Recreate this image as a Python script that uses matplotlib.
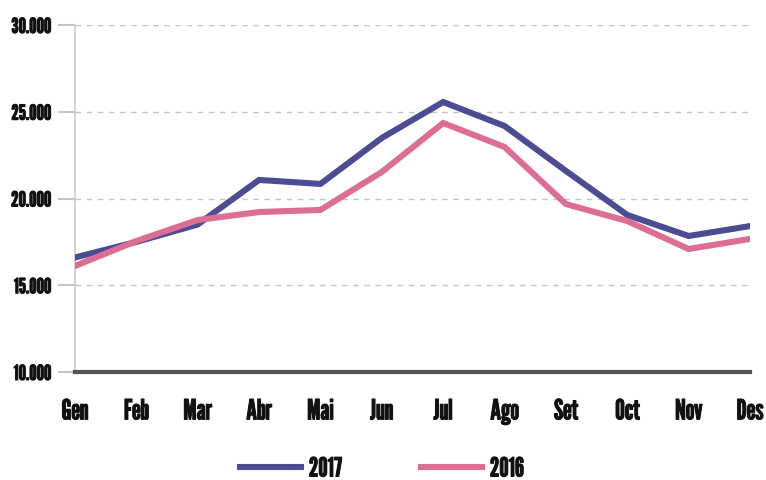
import matplotlib
matplotlib.use("Agg")
import matplotlib.pyplot as plt
import matplotlib.patheffects as pe
from matplotlib.lines import Line2D
from matplotlib.ticker import FuncFormatter

months = ["Gen", "Feb", "Mar", "Abr", "Mai", "Jun", "Jul", "Ago", "Set", "Oct", "Nov", "Des"]
v2017 = [16600, 17500, 18500, 21070, 20840, 23490, 25560, 24180, 21590, 19050, 17840, 18410]
v2016 = [16110, 17550, 18760, 19220, 19340, 21530, 24350, 22970, 19680, 18700, 17090, 17670]
yticks = [10000, 15000, 20000, 25000, 30000]

c2017 = "#4b4c94"
c2016 = "#dd6e93"
FONT = ['League Gothic', 'DejaVu Sans']
thick = [pe.withStroke(linewidth=0.7, foreground="#111111")]

plt.rcParams['font.family'] = FONT
W, H = 766, 481
fig = plt.figure(figsize=(W/100, H/100), dpi=100)
ax = fig.add_axes([75/W, 1-373/H, (750-75)/W, (373-26)/H])

x = list(range(len(months)))
ax.plot(x, v2017, color=c2017, lw=4.4, solid_joinstyle='miter', zorder=3)
ax.plot(x, v2016, color=c2016, lw=4.4, solid_joinstyle='miter', zorder=3)

ax.set_xlim(0, 11)
ax.set_ylim(10000, 30000)
ax.set_yticks(yticks)
ax.yaxis.set_major_formatter(FuncFormatter(lambda v, p: f"{int(v):,}".replace(",", ".")))
for yv in yticks[1:]:
    ax.axhline(yv, color="#c4c4c4", lw=1, ls=(0, (4, 4)), zorder=1)
ax.set_xticks(x)
ax.set_xticklabels(months)

for s in ["top", "right"]:
    ax.spines[s].set_visible(False)
ax.spines["left"].set_color("#cccccc")
ax.spines["left"].set_linewidth(1.2)
ax.spines["bottom"].set_color("#555555")
ax.spines["bottom"].set_linewidth(3)
ax.spines["bottom"].set_zorder(4)

ax.tick_params(axis='y', length=12, color="#c4c4c4", width=1.5, pad=5,
               labelsize=15)
ax.tick_params(axis='x', length=0, pad=19, labelsize=20)
for t in ax.get_yticklabels() + ax.get_xticklabels():
    t.set_color("#111111")
    t.set_path_effects(thick)

handles = [Line2D([0], [0], color=c2017, lw=4.4), Line2D([0], [0], color=c2016, lw=4.4)]
leg = fig.legend(handles, ["2017", "2016"], loc='center', bbox_to_anchor=(382/W, 1-470/H),
                 ncol=2, frameon=False, handlelength=2.3, columnspacing=3.0,
                 handletextpad=0.3, prop={'family': FONT, 'size': 19})
for t in leg.get_texts():
    t.set_color("#111111")
    t.set_path_effects(thick)

fig.savefig("out.png", dpi=100)
